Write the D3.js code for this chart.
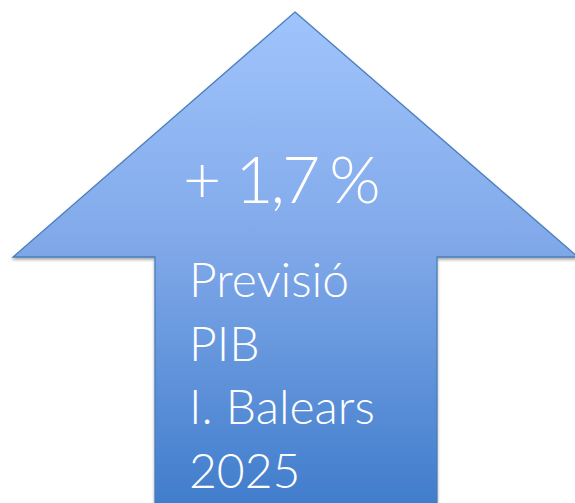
<!DOCTYPE html>
<html>
<head>
<meta charset="utf-8">
<script src="https://cdn.jsdelivr.net/npm/d3@7"></script>
<style>
  body { margin: 0; background: #fff; }
  svg { display: block; }
</style>
</head>
<body>
<div id="main"></div>
<script>
const growth = [1.7];
const labelLines = ["Previsió", "PIB", "I. Balears", "2025"];

const w = 575, h = 503;

const svg = d3.select("#main").append("svg")
  .attr("width", w).attr("height", h);

const defs = svg.append("defs");
const grad = defs.append("linearGradient")
  .attr("id", "arrowGrad")
  .attr("x1", 0).attr("y1", 0).attr("x2", 0).attr("y2", 1);
grad.append("stop").attr("offset", "0%").attr("stop-color", "#a0c4fc");
grad.append("stop").attr("offset", "45%").attr("stop-color", "#82aaea");
grad.append("stop").attr("offset", "100%").attr("stop-color", "#3f7ccb");

const shadow = defs.append("filter").attr("id", "shadow")
  .attr("x", "-10%").attr("y", "-10%").attr("width", "120%").attr("height", "130%");
shadow.append("feDropShadow")
  .attr("dx", 0).attr("dy", 2).attr("stdDeviation", 1.5)
  .attr("flood-color", "#000").attr("flood-opacity", 0.35);

// arrow outline
const arrow = [
  [295, 12], [578, 257], [437, 257], [437, 510],
  [155, 510], [155, 257], [13, 257]
];

svg.append("path")
  .attr("d", d3.line()(arrow) + "Z")
  .attr("fill", "url(#arrowGrad)")
  .attr("stroke", "#4a7ebb")
  .attr("stroke-width", 1.3)
  .attr("filter", "url(#shadow)");

const fmt = d3.format(".1f");
const big = svg.append("text")
  .attr("x", 183).attr("y", 203)
  .attr("fill", "#fff")
  .style("font-family", "Lato, 'Open Sans', sans-serif")
  .style("font-weight", 300)
  .style("font-size", "66px");
big.append("tspan").text("+");
big.append("tspan").attr("dx", 14).style("letter-spacing", "-3px")
  .text(fmt(growth[0]).replace(".", ","));
big.append("tspan").attr("dx", 12).text("%");

svg.selectAll("text.line")
  .data(labelLines)
  .enter().append("text")
  .attr("class", "line")
  .attr("x", 189)
  .attr("y", (d, i) => 297 + i * 63.7)
  .attr("fill", "#fff")
  .style("font-family", "Lato, 'Open Sans', sans-serif")
  .style("font-weight", 300)
  .style("font-size", "48px")
  .text(d => d);
</script>
</body>
</html>
